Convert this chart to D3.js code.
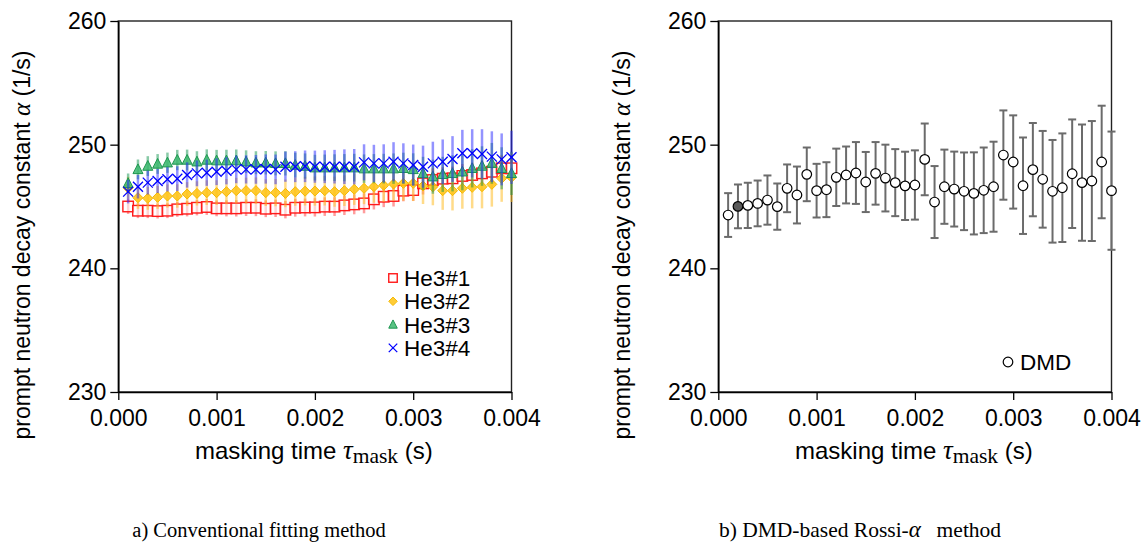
<!DOCTYPE html>
<html><head><meta charset="utf-8">
<script src="https://cdn.jsdelivr.net/npm/d3@7"></script>
<style>
html,body{margin:0;padding:0;background:#fff;}
svg{display:block;font-family:"Liberation Sans",Arial,sans-serif;}
</style></head>
<body>
<svg id="c" width="1146" height="549"></svg>
<script>
// ---------- data ----------
const tau = d3.range(1, 41).map(i => +(i * 0.0001).toFixed(4));
const xTicks = [0, 0.001, 0.002, 0.003, 0.004];
const yTicks = [230, 240, 250, 260];
const seriesNames = ["He3#1", "He3#2", "He3#3", "He3#4"];

const he1 = [245.0,244.66,244.66,244.63,244.66,244.77,244.82,244.9,244.96,244.85,
  244.85,244.85,244.9,244.9,244.82,244.85,244.74,244.9,244.92,244.93,
  244.99,244.99,245.09,245.17,245.25,245.58,245.79,245.85,246.28,246.33,
  246.87,247.14,247.25,247.28,247.47,247.55,247.68,247.81,248.09,248.09];
const he1Err = [0.6,0.6,0.6,0.6,0.6,0.6,0.62,0.62,0.64,0.64,0.65,0.66,0.67,0.68,0.68,0.7,0.7,0.72,0.72,0.74,
  0.75,0.76,0.78,0.8,0.8,0.82,0.84,0.85,0.86,0.88,0.9,0.92,0.93,0.95,0.96,0.98,1.0,1.0,1.02,1.05];

const he2 = [246.5,245.71,245.66,245.74,245.85,245.85,246.01,246.06,246.12,246.12,
  246.2,246.28,246.28,246.28,246.12,246.12,246.06,246.2,246.24,246.25,
  246.28,246.2,246.28,246.39,246.47,246.6,246.71,246.82,246.87,246.87,
  246.66,246.6,246.28,246.28,246.47,246.55,246.6,246.79,247.28,247.36];
const he2Err = [0.9,0.9,0.92,0.93,0.94,0.95,0.96,0.98,1.0,1.0,1.02,1.04,1.05,1.07,1.08,1.1,1.12,1.14,1.16,1.18,
  1.2,1.22,1.24,1.26,1.28,1.3,1.33,1.36,1.4,1.43,1.46,1.5,1.55,1.6,1.65,1.7,1.75,1.8,1.9,2.0];

const he3 = [246.87,248.0,248.27,248.44,248.54,248.76,248.76,248.62,248.76,248.71,
  248.71,248.71,248.62,248.54,248.54,248.49,248.49,248.35,248.27,248.14,
  248.14,248.14,248.14,248.14,248.06,248.06,248.06,248.06,248.09,248.0,
  247.68,247.41,247.6,247.68,247.81,248.09,248.27,248.49,248.09,247.68];
const he3Err = [0.8,0.8,0.8,0.8,0.82,0.82,0.84,0.85,0.86,0.87,0.88,0.9,0.92,0.93,0.95,0.97,0.98,1.0,1.02,1.04,
  1.06,1.08,1.1,1.12,1.15,1.18,1.2,1.23,1.26,1.3,1.34,1.38,1.42,1.46,1.5,1.55,1.6,1.65,1.7,1.75];

const he4 = [246.2,246.6,246.93,247.06,247.2,247.25,247.55,247.68,247.73,247.81,
  247.89,248.0,248.0,248.0,248.03,248.0,248.22,248.22,248.25,248.22,
  248.22,248.22,248.22,248.22,248.57,248.49,248.49,248.62,248.49,248.35,
  248.22,248.49,248.62,248.84,249.3,249.3,249.25,249.03,248.81,248.98];
const he4Err = [0.95,0.95,0.96,0.97,0.98,1.0,1.02,1.04,1.06,1.08,1.1,1.12,1.14,1.16,1.18,1.2,1.22,1.25,1.28,1.3,
  1.33,1.36,1.4,1.43,1.46,1.5,1.54,1.58,1.62,1.66,1.7,1.75,1.8,1.85,1.9,1.95,2.0,2.05,2.1,2.15];

const dmd = [244.31,245.01,245.09,245.25,245.52,244.99,246.47,245.93,247.6,246.28,
  246.36,247.36,247.55,247.71,246.98,247.68,247.3,246.93,246.67,246.74,
  248.81,245.36,246.6,246.41,246.23,246.06,246.31,246.6,249.16,248.6,
  246.68,247.98,247.2,246.23,246.52,247.65,246.93,247.06,248.6,246.28];
const dmdErr = [1.77,1.77,1.83,1.85,1.99,1.87,1.93,2.3,2.17,2.17,
  2.22,2.32,2.3,2.5,2.43,2.53,2.7,2.71,2.76,2.8,
  2.9,2.91,3.0,3.03,3.14,3.32,3.46,3.64,3.61,3.77,
  3.9,3.77,3.91,4.15,4.39,4.39,4.7,4.85,4.55,4.78];
const dmdHighlight = [2];

// ---------- layout ----------
const SANS = '"Liberation Sans", Arial, sans-serif';
const SERIF = '"Liberation Serif", "Times New Roman", serif';
const svg = d3.select("#c");
const yTop = 21, yBottom = 392;
const panels = [{x0: 118.3, x1: 511.5}, {x0: 718.3, x1: 1111.5}];
const y = d3.scaleLinear().domain([230, 260]).range([yBottom, yTop]);

function drawFrame(p) {
  const x = d3.scaleLinear().domain([0, 0.004]).range([p.x0, p.x1]);
  const g = svg.append("g");
  g.append("rect").attr("x", p.x0).attr("y", yTop).attr("width", p.x1 - p.x0).attr("height", yBottom - yTop)
    .attr("fill", "none").attr("stroke", "#222").attr("stroke-width", 1.4);
  const xa = g.append("g").attr("transform", `translate(0,${yBottom})`)
    .call(d3.axisBottom(x).tickValues(xTicks).tickFormat(d3.format(".3f")).tickSize(8).tickSizeOuter(0));
  xa.select(".domain").attr("stroke", "#000").attr("stroke-width", 1.6);
  xa.selectAll(".tick line").attr("stroke", "#000").attr("stroke-width", 1.3);
  xa.selectAll(".tick text").attr("dy", "0.92em").attr("y", 13).attr("fill", "#000")
    .style("font-size", "23px").style("font-family", SANS);
  const ya = g.append("g").attr("transform", `translate(${p.x0},0)`)
    .call(d3.axisLeft(y).tickValues(yTicks).tickSize(8).tickSizeOuter(0));
  ya.select(".domain").attr("stroke", "#000").attr("stroke-width", 1.6);
  ya.selectAll(".tick line").attr("stroke", "#000").attr("stroke-width", 1.3);
  ya.selectAll(".tick text").attr("x", -12).attr("fill", "#000")
    .style("font-size", "23px").style("font-family", SANS);
  const cx = p.x0 - 96, cy = 245;
  const yt = g.append("text").attr("transform", `translate(${cx},${cy}) rotate(-90)`)
    .attr("text-anchor", "middle").attr("dy", "0.35em")
    .style("font-size", "23px").style("font-family", SANS);
  yt.append("tspan").text("prompt neutron decay constant ");
  yt.append("tspan").text("α").style("font-family", SERIF).style("font-style", "italic").style("font-size", "25px");
  yt.append("tspan").text(" (1/s)");
  const xt = g.append("text").attr("x", (p.x0 + p.x1) / 2 - 1).attr("y", 459)
    .attr("text-anchor", "middle").style("font-size", "24px").style("font-family", SANS);
  xt.append("tspan").text("masking time ");
  xt.append("tspan").text("τ").style("font-family", SERIF).style("font-style", "italic").style("font-size", "27px");
  xt.append("tspan").text("mask").style("font-family", SERIF).style("font-size", "21.5px").attr("dy", 4);
  xt.append("tspan").text(" (s)").attr("dy", -4);
  return {g, x};
}

// ---------- panel a ----------
const A = drawFrame(panels[0]);
const styles = [
  {vals: he1, err: he1Err, bar: "rgba(255,60,60,0.5)", name: seriesNames[0], kind: "square"},
  {vals: he2, err: he2Err, bar: "rgba(255,190,40,0.55)", name: seriesNames[1], kind: "diamond"},
  {vals: he3, err: he3Err, bar: "rgba(20,150,80,0.5)", name: seriesNames[2], kind: "triangle"},
  {vals: he4, err: he4Err, bar: "rgba(40,40,255,0.5)", name: seriesNames[3], kind: "x"}
];
function marker(sel, kind, s) {
  if (kind === "square") {
    sel.append("rect").attr("x", -s/2).attr("y", -s/2).attr("width", s).attr("height", s)
      .attr("fill", "rgba(255,255,255,0.55)").attr("stroke", "#ff1a1a").attr("stroke-width", 1.4);
  } else if (kind === "diamond") {
    sel.append("path").attr("d", `M0,${-s/2}L${s/2},0L0,${s/2}L${-s/2},0Z`)
      .attr("fill", "rgba(255,195,20,0.85)").attr("stroke", "#f5b800").attr("stroke-width", 1);
  } else if (kind === "triangle") {
    sel.append("path").attr("d", `M0,${-s*0.55}L${s*0.5},${s*0.42}L${-s*0.5},${s*0.42}Z`)
      .attr("fill", "rgba(60,185,110,0.85)").attr("stroke", "#1e9650").attr("stroke-width", 1);
  } else {
    const h = s/2;
    sel.append("path").attr("d", `M${-h},${-h}L${h},${h}M${-h},${h}L${h},${-h}`)
      .attr("fill", "none").attr("stroke", "#0000ff").attr("stroke-width", 1.3);
  }
}
styles.forEach(st => {
  const g = A.g.append("g");
  g.selectAll("line.eb").data(st.vals).join("line")
    .attr("x1", (d, i) => A.x(tau[i])).attr("x2", (d, i) => A.x(tau[i]))
    .attr("y1", (d, i) => y(d + st.err[i])).attr("y2", (d, i) => y(d - st.err[i]))
    .attr("stroke", st.bar).attr("stroke-width", 2.5);
  g.selectAll("g.m").data(st.vals).join("g")
    .attr("transform", (d, i) => `translate(${A.x(tau[i])},${y(d)})`)
    .each(function () { marker(d3.select(this), st.kind, st.kind === "square" ? 10.5 : 10); });
});
const legA = A.g.append("g");
styles.forEach((st, k) => {
  const ly = 278 + k * 23.3;
  const m = legA.append("g").attr("transform", `translate(393,${ly})`);
  marker(m, st.kind, 8.5);
  legA.append("text").attr("x", 404).attr("y", ly).attr("dy", "0.36em")
    .style("font-size", "22.5px").style("font-family", SANS).text(st.name);
});

// ---------- panel b ----------
const B = drawFrame(panels[1]);
const gb = B.g.append("g");
const capW = 4;
const eb = gb.selectAll("g.eb").data(dmd).join("g")
  .attr("stroke", "#6b6b6b").attr("stroke-width", 2);
eb.append("line").attr("x1", (d, i) => B.x(tau[i])).attr("x2", (d, i) => B.x(tau[i]))
  .attr("y1", (d, i) => y(d + dmdErr[i])).attr("y2", (d, i) => y(d - dmdErr[i]));
eb.append("line").attr("x1", (d, i) => B.x(tau[i]) - capW).attr("x2", (d, i) => B.x(tau[i]) + capW)
  .attr("y1", (d, i) => y(d + dmdErr[i])).attr("y2", (d, i) => y(d + dmdErr[i]));
eb.append("line").attr("x1", (d, i) => B.x(tau[i]) - capW).attr("x2", (d, i) => B.x(tau[i]) + capW)
  .attr("y1", (d, i) => y(d - dmdErr[i])).attr("y2", (d, i) => y(d - dmdErr[i]));
gb.selectAll("circle").data(dmd).join("circle")
  .attr("cx", (d, i) => B.x(tau[i])).attr("cy", d => y(d)).attr("r", 4.8)
  .attr("fill", (d, i) => dmdHighlight.includes(i + 1) ? "#5a5a5a" : "#fff")
  .attr("stroke", "#000").attr("stroke-width", 1.2);
B.g.append("circle").attr("cx", 1008).attr("cy", 362).attr("r", 4.8).attr("fill", "#fff").attr("stroke", "#000").attr("stroke-width", 1.2);
B.g.append("text").attr("x", 1020).attr("y", 362).attr("dy", "0.36em")
  .style("font-size", "22.5px").style("font-family", SANS).text("DMD");

// ---------- captions ----------
svg.append("text").attr("x", 259).attr("y", 537).attr("text-anchor", "middle")
  .style("font-family", SERIF).style("font-size", "20.5px").text("a) Conventional fitting method");
const cb = svg.append("text").attr("x", 860).attr("y", 537).attr("text-anchor", "middle")
  .style("font-family", SERIF).style("font-size", "21.5px");
cb.append("tspan").text("b) DMD-based Rossi-");
cb.append("tspan").text("α").style("font-style", "italic").style("font-size", "23px");
cb.append("tspan").text("\u00a0 method").attr("dx", 5);
</script>
</body></html>
